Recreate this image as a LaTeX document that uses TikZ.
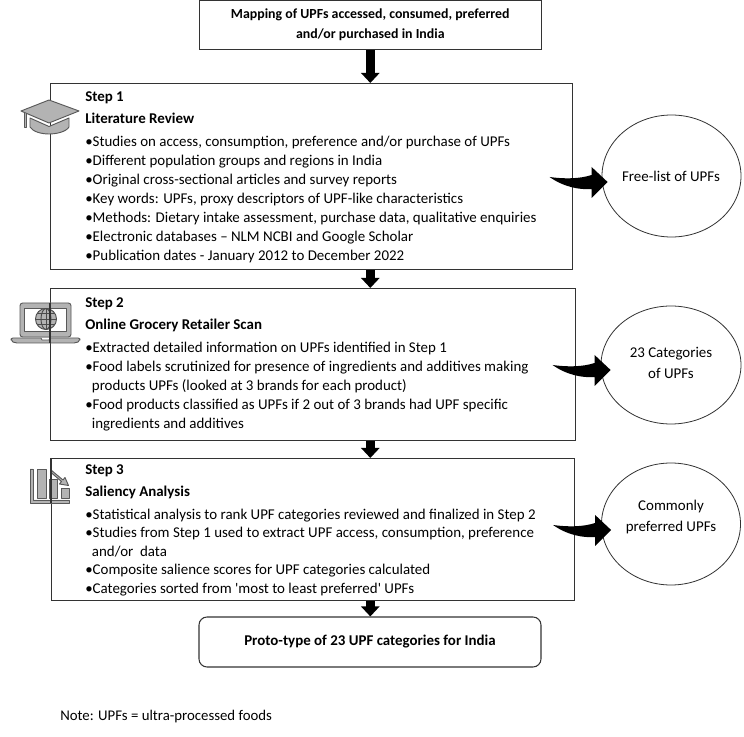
\documentclass[tikz,border=0pt]{standalone}
\usepackage{fontspec}
\setmainfont{Carlito}
\newfontfamily\plainquote{Carlito}
\usetikzlibrary{arrows.meta,shapes.geometric}
\definecolor{iconfill}{HTML}{B3B3B3}
\definecolor{iconline}{HTML}{595959}
\definecolor{boxline}{HTML}{333333}
\newcommand{\hangline}{\hspace*{5pt}}
\tikzset{
  x=0.75pt,y=-0.75pt,
  flowbox/.style={draw=boxline,line width=0.8pt,fill=white,inner sep=0pt,anchor=north west},
  bodytext/.style={anchor=north west,align=left,inner sep=0pt,font=\fontsize{11.2}{14.25}\selectfont},
  boldtext/.style={align=center,inner sep=0pt,font=\fontsize{10.4}{14.8}\selectfont\bfseries},
  outcome/.style={draw=boxline,line width=0.6pt,fill=white,ellipse,inner sep=0pt},
  outcometext/.style={align=center,inner sep=0pt,font=\fontsize{11.2}{16}\selectfont},
  blockarrow/.style={draw=black,line width=7pt,-{Triangle[length=7.5pt,width=13.5pt]}},
  icon/.style={draw=iconline,fill=iconfill,line width=0.7pt,line join=round},
  iconwhite/.style={draw=iconline,fill=white,line width=0.7pt,line join=round},
  curvetip/.style={fill=black,draw=none},
}
\begin{document}
\begin{tikzpicture}
\useasboundingbox (0,0) rectangle (744,737);
% boxes
\node[flowbox,minimum width=342*0.75pt,minimum height=49*0.75pt] (top) at (199,0) {};
\node[boldtext] (toptext) at (370.3,25) {Mapping of UPFs accessed, consumed, preferred\\and/or purchased in India};

\node[flowbox,minimum width=522*0.75pt,minimum height=186*0.75pt] (box1) at (50,83) {};
\node[flowbox,minimum width=525*0.75pt,minimum height=152*0.75pt] (box2) at (50,288) {};
\node[flowbox,minimum width=523*0.75pt,minimum height=142*0.75pt] (box3) at (51,458) {};
\node[draw=boxline,line width=0.8pt,fill=white,rounded corners=6pt,minimum width=342*0.75pt,minimum height=50*0.75pt,inner sep=0pt] (final) at (370,642) {};
\node[boldtext,font=\fontsize{11.2}{14.4}\selectfont\bfseries] (finaltext) at (370,642) {Proto-type of 23 UPF categories for India};

% step text
\node[bodytext] (text1) at (85,91) {\textbf{Step 1}\\[2.8pt]\textbf{Literature Review}\\[2.6pt]
•Studies on access, consumption, preference and/or purchase of UPFs\\
•Different population groups and regions in India\\
•Original cross-sectional articles and survey reports\\
•Key words: UPFs, proxy descriptors of UPF-like characteristics\\
•Methods: Dietary intake assessment, purchase data, qualitative enquiries\\
•Electronic databases – NLM NCBI and Google Scholar\\
•Publication dates - January 2012 to December 2022};

\node[bodytext] (text2) at (85,297) {\textbf{Step 2}\\[2.8pt]\textbf{Online Grocery Retailer Scan}\\[2.6pt]
•Extracted detailed information on UPFs identified in Step 1\\
•Food labels scrutinized for presence of ingredients and additives making\\
\hangline products UPFs (looked at 3 brands for each product)\\
•Food products classified as UPFs if 2 out of 3 brands had UPF specific\\
\hangline ingredients and additives};

\node[bodytext,font=\fontsize{11.2}{13.9}\selectfont] (text3) at (85,464) {\textbf{Step 3}\\[3.2pt]\textbf{Saliency Analysis}\\[3pt]
•Statistical analysis to rank UPF categories reviewed and finalized in Step 2\\
•Studies from Step 1 used to extract UPF access, consumption, preference\\
\hangline and/or\ \ data\\
•Composite salience scores for UPF categories calculated\\
•Categories sorted from {\plainquote '}most to least preferred{\plainquote '} UPFs};

% outcomes
\node[outcome,minimum width=139*0.75pt,minimum height=122*0.75pt] (c1) at (671.5,176) {};
\node[outcometext] (t1) at (671,176) {Free-list of UPFs};
\node[outcome,minimum width=140*0.75pt,minimum height=118*0.75pt] (c2) at (671,365) {};
\node[outcometext] (t2) at (671,363) {23 Categories\\of UPFs};
\node[outcome,minimum width=139*0.75pt,minimum height=122*0.75pt] (c3) at (671,524) {};
\node[outcometext] (t3) at (671,517) {Commonly\\preferred UPFs};

% vertical block arrows
\draw[blockarrow] (top.south -| toptext) -- (box1.north -| toptext);
\draw[blockarrow] (box1.south -| toptext) -- (box2.north -| toptext);
\draw[blockarrow] (box2.south -| toptext) -- (box3.north -| toptext);
\draw[blockarrow] (box3.south -| toptext) -- (final.north -| toptext);

% curved arrows, each anchored at its outcome
\foreach \c/\dx/\dy in {c1/-52/1,c2/-48/0,c3/-48/1}{
  \fill[curvetip,shift={(\c.west)},shift={(\dx,\dy)}] (0,0) .. controls (14,2) and (30,2) .. (42,-2)
    -- (42,-10) -- (58,5) -- (42,21) -- (42,12)
    .. controls (30,13) and (14,10) .. cycle;
}

% graduation cap
\draw[icon] (30,118) -- (30,127) .. controls (33,132) and (42,134) .. (49,134)
  .. controls (56,134) and (66,132) .. (69,127) -- (69,118) -- (49,126.5) -- cycle;
\draw[icon] (24,113) -- (24,127) -- (26.5,127) -- (26.5,114);
\draw[icon] (21,111) -- (49,100) -- (79,111) -- (49,123) -- cycle;

% laptop
\draw[icon,rounded corners=2pt] (20,303) rectangle (71,337);
\draw[iconwhite] (24,308) rectangle (66,331);
\draw[icon,rounded corners=1.5pt] (11,338) -- (80,338) -- (80,341) -- (76,343) -- (15,343) -- (11,341) -- cycle;
\draw[iconwhite,line width=0.6pt] (41,338) -- (42,340) -- (49,340) -- (50,338);
\draw[icon,draw=black!70] (46,319) circle (10.5);
\draw[black!70,line width=0.7pt] (46,308.5) -- (46,329.5) (35.5,319) -- (56.5,319)
  (37,313.5) -- (55,313.5) (37,324.5) -- (55,324.5);
\draw[black!70,line width=0.7pt] (46,319) ellipse (5 and 10.5);
\draw[boxline,line width=0.8pt] (50,303) -- (50,343);

% chart
\draw[icon] (30,469) -- (33,469) -- (33,500) -- (69,500) -- (69,503) -- (30,503) -- cycle;
\draw[icon] (37,469) rectangle (46,498);
\draw[icon] (49,479) rectangle (57,498);
\draw[icon] (61,488) rectangle (69,498);
\draw[icon] (51,470) -- (63,480) -- (65,477.5) -- (68.5,485.5) -- (59.5,484) -- (61.5,481.5) -- (51,472.5) -- cycle;
\draw[boxline,line width=0.8pt] (51,458) -- (51,503);

% note
\node[anchor=base west,inner sep=0pt,font=\fontsize{11.1}{14}\selectfont] (note) at (60,721) {Note: UPFs = ultra-processed foods};
\end{tikzpicture}
\end{document}
